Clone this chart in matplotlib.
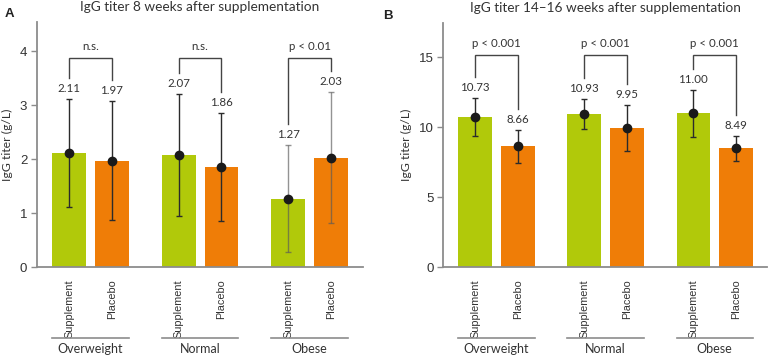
import matplotlib
matplotlib.use("Agg")
import matplotlib.pyplot as plt
import matplotlib.transforms as mtransforms

groups = ["Overweight", "Normal", "Obese"]
treatments = ["Supplement", "Placebo"]

# Panel A (8 weeks)
a_means = [2.11, 1.97, 2.07, 1.86, 1.27, 2.03]
a_err = [1.00, 1.10, 1.13, 1.00, 1.00, 1.21]
a_labels = ["2.11", "1.97", "2.07", "1.86", "1.27", "2.03"]
a_sig = ["n.s.", "n.s.", "p < 0.01"]

# Panel B (14-16 weeks)
b_means = [10.73, 8.66, 10.93, 9.95, 11.00, 8.49]
b_err = [1.35, 1.18, 1.08, 1.66, 1.67, 0.88]
b_labels = ["10.73", "8.66", "10.93", "9.95", "11.00", "8.49"]
b_sig = ["p < 0.001", "p < 0.001", "p < 0.001"]

green = "#B1C90A"
orange = "#EF7D07"
spine_col = "#8c8c8c"
txt_col = "#333333"
font_main = "Lato"
font_tick = "Liberation Sans"

fig = plt.figure(figsize=(7.7, 3.57), dpi=100)

pos = [0, 1, 2.56, 3.56, 5.12, 6.12]
colors = [green, orange] * 3
width = 0.79


def panel(ax, means, errs, labels, sig, ymax, yticks, bracket_y, sig_y, title, err_colors, px_per_unit):
    ax.bar(pos, means, width=width, color=colors, zorder=1)
    for x, m, e, c in zip(pos, means, errs, err_colors):
        ax.errorbar(x, m, yerr=e, fmt="o", color=c, ecolor=c, elinewidth=1.0,
                    capsize=2, capthick=1.0, markersize=6, mfc="#1a1a1a", mec="#1a1a1a", zorder=3)
    lab_off = 10.5 / px_per_unit
    leg_off = 21 / px_per_unit
    for x, m, e, t in zip(pos, means, errs, labels):
        ax.text(x, m + e + lab_off, t, ha="center", va="center", fontsize=8.3,
                color=txt_col, family=font_main)
    for g in range(3):
        i, j = 2 * g, 2 * g + 1
        x1, x2 = pos[i], pos[j]
        y1 = means[i] + errs[i] + leg_off
        y2 = means[j] + errs[j] + leg_off
        ax.plot([x1, x1, x2, x2], [y1, bracket_y, bracket_y, y2], color="#444444", lw=1.0,
                solid_joinstyle="miter", zorder=2)
        ax.text((x1 + x2) / 2, sig_y, sig[g], ha="center", va="center", fontsize=8.3,
                color=txt_col, family=font_main)
    ax.set_xlim(-0.75, 6.86)
    ax.set_ylim(0, ymax)
    ax.set_yticks(yticks)
    ax.set_yticklabels([str(v) for v in yticks], family=font_tick, fontsize=9.5, color=txt_col)
    ax.set_xticks(pos)
    ax.set_xticklabels(treatments * 3, rotation=90, family=font_tick, fontsize=7.8,
                       color=txt_col, va="top")
    ax.tick_params(axis="x", length=0, pad=9)
    ax.tick_params(axis="y", length=4, width=1.0, color=spine_col, pad=3)
    for s in ["top", "right"]:
        ax.spines[s].set_visible(False)
    for s in ["left", "bottom"]:
        ax.spines[s].set_color(spine_col)
        ax.spines[s].set_linewidth(1.3)
    ax.set_ylabel("IgG titer (g/L)", family=font_main, fontsize=8.8, color=txt_col, labelpad=5)
    ax.set_title(title, family=font_main, fontsize=9.8, color=txt_col, pad=8)
    trans = mtransforms.blended_transform_factory(ax.transData, ax.transAxes)
    for g in range(3):
        x1, x2 = pos[2 * g] - width / 2, pos[2 * g + 1] + width / 2
        ax.plot([x1, x2], [-0.29, -0.29], transform=trans, color=spine_col, lw=1.2, clip_on=False)
        ax.text((pos[2 * g] + pos[2 * g + 1]) / 2, -0.335, groups[g], transform=trans,
                ha="center", va="center", family=font_main, fontsize=9, color=txt_col)


axA = fig.add_axes([0.048, 0.252, 0.423, 0.686])
axB = fig.add_axes([0.5757, 0.252, 0.421, 0.684])

dark = "#2b2b2b"
grey = (0.35, 0.35, 0.35, 0.65)
panel(axA, a_means, a_err, a_labels, a_sig, 4.54, [0, 1, 2, 3, 4], 3.88, 4.08,
      "IgG titer 8 weeks after supplementation", [dark, dark, dark, dark, grey, grey], 54.0)
panel(axB, b_means, b_err, b_labels, b_sig, 17.48, [0, 5, 10, 15], 15.17, 16.0,
      "IgG titer 14\u201316 weeks after supplementation", [dark] * 6, 13.96)

fig.text(0.006, 0.978, "A", fontsize=9.5, fontweight="bold", family=font_tick, va="top", color="#222222")
fig.text(0.497, 0.972, "B", fontsize=9.5, fontweight="bold", family=font_tick, va="top", color="#222222")

fig.savefig("out.png", dpi=100)
